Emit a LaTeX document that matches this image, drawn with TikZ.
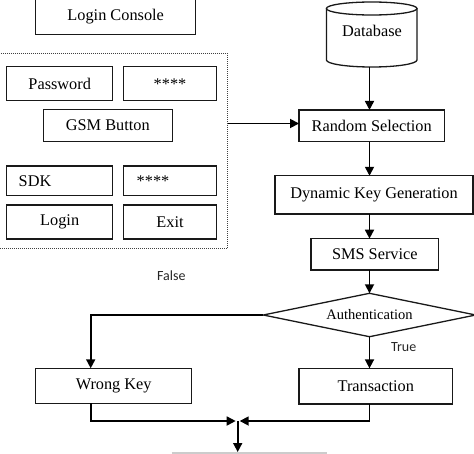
\documentclass[tikz,border=0pt]{standalone}
\usepackage{fontspec}
\setmainfont{Liberation Serif}
\newfontfamily\lblfont{Carlito}
\usetikzlibrary{arrows.meta,shapes.geometric}
\begin{document}
\begin{tikzpicture}[x=1pt,y=-1pt,
  box/.style={draw=black!90, line width=1.3pt, rectangle, inner sep=0pt, outer sep=0pt,
    font=\fontsize{16.3}{19}\selectfont},
  arr/.style={draw=black, line width=1.7pt, -{Triangle[length=9pt,width=9pt]}},
  lbl/.style={font=\lblfont\fontsize{14}{16}\selectfont, text=black!85, inner sep=0pt},
  panelbox/.style={draw=black!75, line width=1pt, dash pattern=on 1pt off 1pt,
    rectangle, inner sep=0pt, outer sep=0pt}]
\useasboundingbox (0,0) rectangle (474,453);
% left panel
\node[box, minimum width=160pt, minimum height=36.7pt] (console) at (115.7,16.3) {Login Console};
\node[panelbox, minimum width=229.7pt, minimum height=194.7pt] (panel) at (112.85,150.65) {};
\node[box, minimum width=106pt, minimum height=34pt] (pw) at (59.7,83.7) {Password};
\node[box, minimum width=93.4pt, minimum height=34pt] (pwstar) at (170,83.7) {****};
\node[box, minimum width=129pt, minimum height=32.4pt] (gsm) at (107.8,125.5) {GSM Button};
\node[box, text width=82pt, inner xsep=12pt, align=left, minimum height=29.7pt] (sdk) at (59.7,180.8) {SDK};
\node[box, text width=66.6pt, inner xsep=13.4pt, align=left, minimum height=29.7pt] (sdkstar) at (170,180.8) {****};
\node[box, minimum width=106pt, minimum height=34pt] (login) at (59.7,222) {Login};
\node[box, minimum width=93.4pt, minimum height=34pt] (exit) at (170,222) {Exit};
\node[lbl] (false) at (171.3,276) {False};
% database
\draw[line width=1.3pt, draw=black!90] (371.7,8.5) ellipse [x radius=45.3pt, y radius=6.5pt];
\draw[line width=1.3pt, draw=black!90] (326.4,8.5) -- (326.4,60)
   arc[start angle=180, end angle=360, x radius=45.3pt, y radius=7pt] -- (417,8.5);
\node[inner sep=0pt, outer sep=0pt, minimum width=90.6pt, minimum height=65pt] (db) at (371.7,34.5) {};
\node[font=\fontsize{16.3}{19}\selectfont, inner sep=0pt] (dbtext) at (372,31) {Database};
% right chain
\node[box, minimum width=145.3pt, minimum height=31.7pt] (rs) at (371.7,125.8) {Random Selection};
\node[box, minimum width=198pt, minimum height=38.3pt] (dkg) at (374,194.9) {Dynamic Key Generation};
\node[box, minimum width=127.7pt, minimum height=31.3pt] (sms) at (374.8,254.3) {SMS Service};
\node[diamond, draw=black!90, line width=1.3pt, inner sep=0pt, outer sep=0pt, aspect=4.9,
  minimum width=212.4pt, minimum height=43.4pt,
  font=\fontsize{14.5}{17}\selectfont] (auth) at (369.5,315) {Authentication};
\node[lbl] (true) at (403.7,346.7) {True};
\node[box, minimum width=156pt, minimum height=35pt] (wk) at (113.7,385.8) {Wrong Key};
\node[box, minimum width=153.7pt, minimum height=35.7pt] (tr) at (375.8,386.2) {Transaction};
\coordinate (wkin) at (90.7,368.3);
\coordinate (wkout) at (90.7,403.3);
\coordinate (junc) at (237.7,421);
\coordinate (jend) at (237.7,452);
% connectors
\draw[arr] (db.south -| auth.north) -- (rs.north -| auth.north);
\draw[arr] (panel.east |- 0,123.5) -- (rs.west |- 0,123.5);
\draw[arr] (rs.south -| auth.north) -- (dkg.north -| auth.north);
\draw[arr] (dkg.south -| auth.north) -- (sms.north -| auth.north);
\draw[arr] (sms.south -| auth.north) -- (auth.north);
\draw[arr] (auth.west) -| (wkin);
\draw[arr] (auth.south) -- (tr.north -| auth.south);
\draw[arr, shorten >=2pt] (wkout) |- (junc);
\draw[arr, shorten >=2pt] (tr.south -| auth.south) |- (junc);
\draw[arr] (junc) -- (jend);
\draw[black!20, line width=2pt] (171.7,452.5) -- (326.7,452.5);
\end{tikzpicture}
\end{document}
